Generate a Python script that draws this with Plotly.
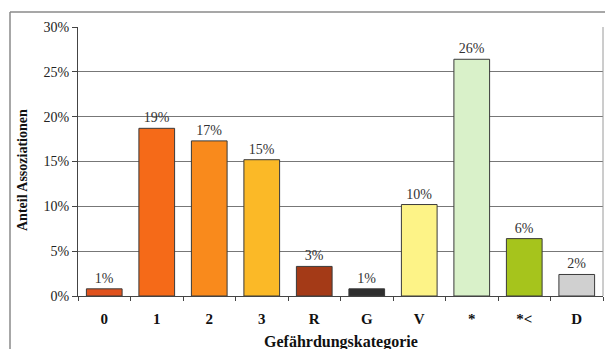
import plotly.graph_objects as go

# Share of associations per threat category
categories = ["0", "1", "2", "3", "R", "G", "V", "*", "*<", "D"]
shares = [0.8, 18.7, 17.3, 15.2, 3.3, 0.8, 10.2, 26.4, 6.4, 2.4]
bar_colors = ["#e0521e", "#f56a18", "#f98a1c", "#fbb927", "#a43a17", "#2e2e2e",
              "#fdf387", "#d9f1c9", "#a6c41c", "#d0d0d0"]
y_ticks = [0, 5, 10, 15, 20, 25, 30]
y_tick_labels = [f"{v}%" for v in y_ticks]
x_title = "Gefährdungskategorie"
y_title = "Anteil Assoziationen"

serif = "Liberation Serif, Times New Roman, serif"

fig = go.Figure(
    go.Bar(
        x=categories,
        y=shares,
        marker=dict(color=bar_colors, line=dict(color="#3a3a3a", width=1)),
        texttemplate="%{y:.0f}%",
        textposition="outside",
        cliponaxis=False,
        textfont=dict(family=serif, size=14, color="#333333"),
        hoverinfo="skip",
    )
)

W, H = 605, 349
ml, mr, mt, mb = 78, 2, 27, 53
pw, ph = W - ml - mr, H - mt - mb


def px_x(x):
    return (x - ml) / pw


def px_y(y):
    return (H - mb - y) / ph


# outer chart frame (left and top edges)
frame = dict(type="line", xref="paper", yref="paper", line=dict(color="#8a8a8a", width=1.5))
shapes = [
    dict(frame, x0=px_x(10), x1=px_x(10), y0=px_y(12), y1=px_y(349)),
    dict(frame, x0=px_x(10), x1=px_x(605), y0=px_y(12), y1=px_y(12)),
    dict(type="line", xref="paper", yref="paper", x0=1, x1=1, y0=0, y1=1,
         line=dict(color="#9a9a9a", width=1)),
]

# axis titles placed as annotations
annotations = [
    dict(text=f"<b>{x_title}</b>", xref="paper", yref="paper",
         x=px_x(341), y=px_y(342), xanchor="center", yanchor="middle",
         showarrow=False, font=dict(family=serif, size=16, color="#111111")),
    dict(text=f"<b>{y_title}</b>", xref="paper", yref="paper",
         x=px_x(22), y=px_y(170), xanchor="center", yanchor="middle",
         textangle=-90, showarrow=False, font=dict(family=serif, size=14, color="#111111")),
]

fig.update_layout(
    width=W,
    height=H,
    margin=dict(l=ml, r=mr, t=mt, b=mb),
    paper_bgcolor="white",
    plot_bgcolor="white",
    bargap=0.32,
    showlegend=False,
    shapes=shapes,
    annotations=annotations,
    font=dict(family=serif, color="#111111"),
    xaxis=dict(
        type="category",
        showline=True,
        linecolor="#444444",
        ticks="outside",
        tickson="boundaries",
        ticklen=4,
        tickcolor="#444444",
        ticklabelstandoff=9,
        tickfont=dict(family=serif, size=15, color="#111111", weight="bold"),
    ),
    yaxis=dict(
        range=[0, 30],
        tickvals=y_ticks,
        ticktext=y_tick_labels,
        showline=True,
        linecolor="#444444",
        ticks="outside",
        ticklen=5,
        tickcolor="#444444",
        showgrid=True,
        gridcolor="#777777",
        gridwidth=1,
        zeroline=False,
        tickfont=dict(family=serif, size=14, color="#222222"),
    ),
)

fig.write_html("out.html")
